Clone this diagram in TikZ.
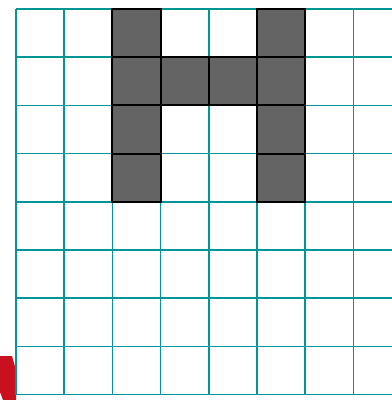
\documentclass[tikz,border=0pt]{standalone}
\usepackage{xcolor}
\usepackage{tikz}
\definecolor{gridteal}{RGB}{0,150,150}
\definecolor{cellgray}{RGB}{100,100,100}
\definecolor{markred}{RGB}{200,16,30}
\tikzset{
  gridline/.style={line width=1pt, color=gridteal},
  fullcell/.style={fill=cellgray, draw=black, line width=1.1pt},
  redmark/.style={fill=markred, draw=none}
}
\begin{document}
\begin{tikzpicture}[x=1cm, y=-1cm]
  \useasboundingbox (-0.332,-0.187) rectangle (7.8,8.195);

  % --- Red mark, cut off at the left edge ---
  \fill[redmark] (-0.332,7.20) -- (-0.083,7.20) -- (0,7.49) -- (0,8.11)
    -- (-0.27,8.11) -- (-0.332,7.95) -- cycle;

  % --- Grid ---
  \foreach \c in {0,...,7}
    \draw[gridline] (\c,0) -- (\c,8);
  \foreach \r in {1,...,8}
    \draw[gridline] (0,\r) -- (7.8,\r);
  \draw[gridline, line width=1.5pt] (0,0) -- (7.8,0);

  % --- Filled cells (column, row) ---
  \foreach \c/\r in {2/0, 2/1, 2/2, 2/3, 5/0, 5/1, 5/2, 5/3, 3/1, 4/1}
    \draw[fullcell] (\c,\r) rectangle ++(1,1);
\end{tikzpicture}
\end{document}
